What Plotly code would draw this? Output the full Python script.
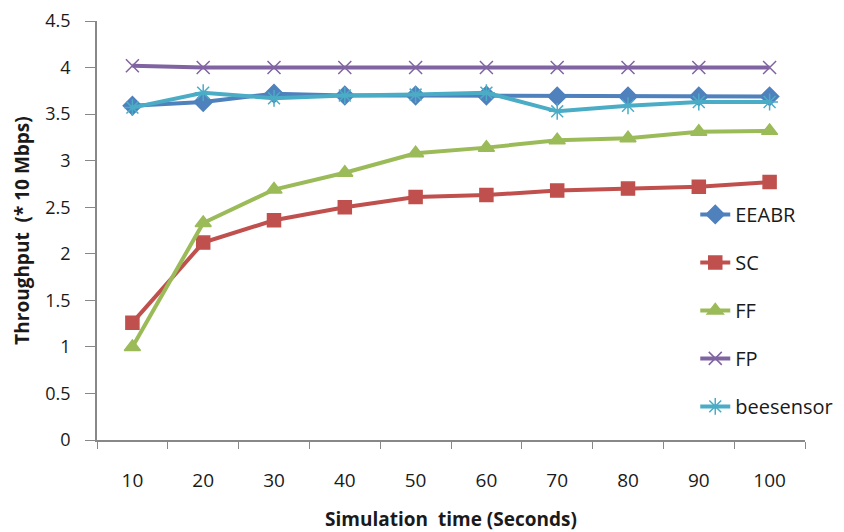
import plotly.graph_objects as go

categories = ["10", "20", "30", "40", "50", "60", "70", "80", "90", "100"]
eeabr = [3.59, 3.63, 3.72, 3.70, 3.70, 3.70, 3.69, 3.69, 3.69, 3.69]
sc = [1.26, 2.12, 2.36, 2.50, 2.61, 2.63, 2.68, 2.70, 2.72, 2.77]
ff = [1.00, 2.33, 2.69, 2.87, 3.08, 3.14, 3.22, 3.24, 3.31, 3.32]
fp = [4.02, 4.00, 4.00, 4.00, 4.00, 4.00, 4.00, 4.00, 4.00, 4.00]
beesensor = [3.57, 3.73, 3.67, 3.70, 3.71, 3.73, 3.53, 3.59, 3.63, 3.63]
yticks = [0, 0.5, 1, 1.5, 2, 2.5, 3, 3.5, 4, 4.5]

series = [
    ("EEABR", eeabr, "#4F81BD", "diamond", 14),
    ("SC", sc, "#C0504D", "square", 13),
    ("FF", ff, "#9BBB59", "triangle-up", 14),
    ("FP", fp, "#8064A2", "x-thin-open", 13),
    ("beesensor", beesensor, "#4BACC6", "asterisk-open", 14),
]

fig = go.Figure()
for i, (name, vals, col, sym, sz) in enumerate(series):
    fig.add_trace(go.Scatter(
        x=categories, y=vals, name=name, mode="lines+markers",
        legendgroup=f"g{i}",
        line=dict(color=col, width=4),
        marker=dict(symbol=sym, size=sz, color=col,
                    line=dict(color=col, width=1.5)),
    ))

font_family = "'Open Sans', Lato, sans-serif"
fig.update_layout(
    width=836, height=524,
    paper_bgcolor="white", plot_bgcolor="white",
    margin=dict(l=89, r=39, t=13, b=92, autoexpand=False),
    font=dict(family=font_family, size=19, color="#1a1a1a"),
    showlegend=True,
    legend=dict(x=0.845, y=0.585, xanchor="left", yanchor="top",
                bgcolor="rgba(0,0,0,0)", tracegroupgap=19,
                font=dict(size=20)),
    xaxis=dict(type="category", tickson="boundaries", ticks="outside",
               range=[-0.5, 9.5], automargin=False,
               ticklen=7, tickcolor="#888888", showline=True,
               linecolor="#888888", linewidth=1.5, showgrid=False,
               zeroline=False, ticklabelstandoff=22,
               ticklabeloverflow="allow",
               title=dict(text="<b>Simulation&nbsp; time (Seconds)</b>",
                          font=dict(size=19), standoff=27),
               tickfont=dict(size=19)),
    yaxis=dict(range=[0, 4.5], tickvals=yticks, automargin=False,
               ticktext=[f"{v:g}" for v in yticks],
               ticklabeloverflow="allow",
               ticks="outside", ticklen=10, tickcolor="#888888",
               showline=True, linecolor="#888888", linewidth=1.5,
               showgrid=False, zeroline=False, ticklabelstandoff=11,
               title=dict(text="<b>Throughput&nbsp; (* 10 Mbps)</b>",
                          font=dict(size=19), standoff=11),
               tickfont=dict(size=18)),
)

fig.write_html("out.html")
